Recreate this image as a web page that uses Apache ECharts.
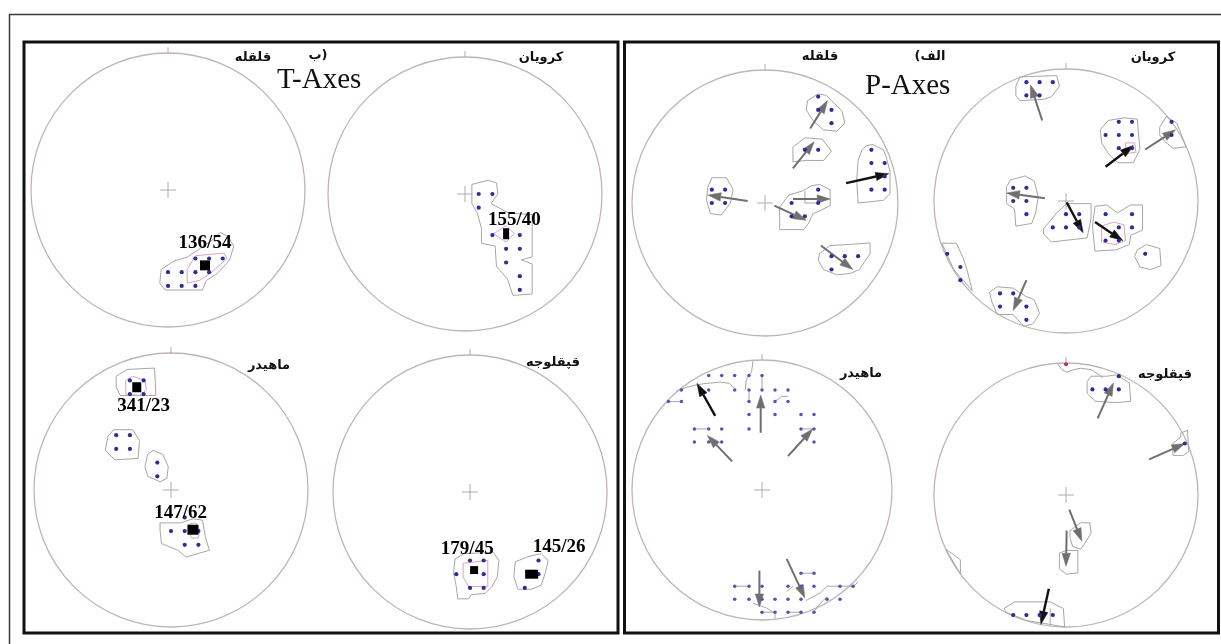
<!DOCTYPE html>
<html><head><meta charset="utf-8">
<script src="https://cdn.jsdelivr.net/npm/echarts@6/dist/echarts.min.js"></script>
<style>html,body{margin:0;padding:0;background:#fff}#c{width:1221px;height:644px}</style>
</head><body><div id="c"></div>
<script>
// ---------------- DATA (net coordinates: unit circle, x east, y north) ----------------
const siteNames = ['قلقله', 'کرویان', 'ماهیدر', 'قپقلوجه'];
const panelTitles = ['T-Axes', 'P-Axes'];
const panelLetters = ['ب)', '(الف'];

// T-Axes / قلقله
const dotsA = [[0,-0.6],[0.1,-0.6],[0.2,-0.6],[0.3,-0.6],[0.2,-0.5],[0.3,-0.5],[0.4,-0.5],[0,-0.7],[0.1,-0.7],[0.2,-0.7]];
const polysA = [[[-0.05,-0.58],[0.04,-0.52],[0.14,-0.49],[0.23,-0.43],[0.33,-0.36],[0.38,-0.31],[0.44,-0.34],[0.48,-0.41],[0.45,-0.51],[0.36,-0.61],[0.28,-0.66],[0.25,-0.73],[-0.02,-0.73],[-0.06,-0.68]]];
const innerA = [[[0.14,-0.68],[0.23,-0.66],[0.32,-0.6],[0.43,-0.5],[0.41,-0.46],[0.31,-0.47],[0.2,-0.48],[0.14,-0.58]]];
const squaresA = [[0.27,-0.55]];
const labelsA = [[0.27,-0.39,'136/54']];

// T-Axes / کرویان
const dotsB = [[0.1,0],[0.2,0],[0.1,-0.1],[0.2,-0.3],[0.4,-0.3],[0.3,-0.4],[0.4,-0.4],[0.3,-0.5],[0.4,-0.6],[0.4,-0.7]];
const polysB = [[[0.05,0.07],[0.17,0.1],[0.23,0.08],[0.24,0],[0.19,-0.07],[0.32,-0.14],[0.49,-0.15],[0.49,-0.46],[0.41,-0.48],[0.49,-0.51],[0.49,-0.73],[0.35,-0.74],[0.31,-0.62],[0.23,-0.53],[0.22,-0.38],[0.12,-0.36],[0.12,-0.25],[0.09,-0.14],[0.05,-0.07]]];
const innerB = [[[0.21,-0.29],[0.3,-0.23],[0.36,-0.29],[0.3,-0.35]]];
const squaresB = [[0.3,-0.29]];
const labelsB = [[0.36,-0.19,'155/40']];

// T-Axes / ماهیدر
const dotsC = [[-0.3,0.8],[-0.2,0.8],[-0.3,0.7],[-0.2,0.7],[-0.4,0.4],[-0.3,0.4],[-0.4,0.3],[-0.3,0.3],[-0.1,0.2],[-0.1,0.1],[0,-0.3],[0.1,-0.3],[0.1,-0.4],[0.2,-0.4],[0.1,-0.2],[0.2,-0.3]];
const polysC = [
  [[-0.4,0.83],[-0.32,0.88],[-0.12,0.89],[-0.11,0.69],[-0.37,0.69],[-0.4,0.75]],
  [[-0.46,0.39],[-0.42,0.44],[-0.28,0.44],[-0.23,0.36],[-0.24,0.23],[-0.41,0.22],[-0.48,0.29]],
  [[-0.17,0.26],[-0.13,0.29],[-0.06,0.26],[-0.02,0.17],[-0.03,0.085],[-0.08,0.06],[-0.17,0.1],[-0.19,0.17]],
  [[-0.08,-0.24],[0.07,-0.24],[0.16,-0.21],[0.23,-0.22],[0.25,-0.34],[0.28,-0.44],[0.21,-0.46],[0.11,-0.49],[0.05,-0.44],[-0.07,-0.39],[-0.08,-0.29]]
];
const innerC = [
  [[-0.33,0.8],[-0.28,0.83],[-0.19,0.8],[-0.18,0.73],[-0.23,0.69],[-0.33,0.7]],
  [[0.13,-0.25],[0.18,-0.24],[0.21,-0.29],[0.2,-0.35],[0.15,-0.35],[0.13,-0.3]]
];
const squaresC = [[-0.25,0.75],[0.16,-0.29]];
const labelsC = [[-0.2,0.61,'341/23'],[0.07,-0.165,'147/62']];

// T-Axes / قپقلوجه
const dotsD = [[0,-0.5],[0.1,-0.5],[-0.1,-0.6],[0.1,-0.6],[0,-0.7],[0.1,-0.7],[0.5,-0.5],[0.5,-0.6],[0.4,-0.7]];
const polysD = [
  [[-0.11,-0.49],[-0.04,-0.45],[0.17,-0.44],[0.21,-0.5],[0.2,-0.62],[0.16,-0.69],[0.11,-0.74],[0.01,-0.75],[-0.01,-0.78],[-0.09,-0.78],[-0.1,-0.69],[-0.12,-0.59]],
  [[0.33,-0.51],[0.43,-0.47],[0.52,-0.45],[0.57,-0.5],[0.55,-0.59],[0.52,-0.68],[0.45,-0.71],[0.35,-0.71],[0.32,-0.62]]
];
const innerD = [[[-0.05,-0.52],[0.13,-0.5],[0.13,-0.69],[-0.01,-0.69],[-0.05,-0.62]]];
const squaresD = [[0.03,-0.57],[0.45,-0.6]];
const labelsD = [[-0.02,-0.42,'179/45'],[0.65,-0.4,'145/26']];

// P-Axes / قلقله   (arrows: x1,y1 -> x2,y2, tone 0 grey / 1 black)
const dotsE = [[0.4,0.8],[0.4,0.7],[0.5,0.7],[0.5,0.6],[0.3,0.4],[0.4,0.4],[0.8,0.4],[0.8,0.3],[0.9,0.3],[0.9,0.2],[0.8,0.1],[0.9,0.1],[-0.4,0.1],[-0.3,0.1],[-0.4,0],[-0.3,0],[0.4,0.1],[0.2,0],[0.4,0],[0.2,-0.1],[0.3,-0.1],[0.5,-0.4],[0.6,-0.4],[0.7,-0.4],[0.5,-0.5]];
const polysE = [
  [[0.32,0.77],[0.4,0.82],[0.46,0.81],[0.58,0.69],[0.6,0.6],[0.54,0.54],[0.44,0.55],[0.36,0.62],[0.31,0.7]],
  [[0.21,0.42],[0.3,0.49],[0.43,0.48],[0.5,0.39],[0.44,0.32],[0.31,0.32],[0.21,0.31]],
  [[0.76,0.43],[0.81,0.44],[0.89,0.4],[0.91,0.35],[0.94,0.24],[0.94,0.07],[0.89,0.02],[0.7,0],[0.69,0.17],[0.7,0.32],[0.73,0.4]],
  [[-0.43,0.12],[-0.4,0.19],[-0.29,0.19],[-0.24,0.1],[-0.26,0],[-0.33,-0.09],[-0.41,-0.08],[-0.44,0.02]],
  [[0.11,-0.03],[0.18,0.06],[0.28,0.09],[0.35,0.13],[0.41,0.14],[0.49,0.1],[0.49,-0.02],[0.41,-0.06],[0.36,-0.08],[0.33,-0.15],[0.29,-0.2],[0.11,-0.2]],
  [[0.41,-0.38],[0.49,-0.32],[0.66,-0.31],[0.79,-0.3],[0.79,-0.38],[0.71,-0.5],[0.64,-0.53],[0.54,-0.54],[0.44,-0.5],[0.4,-0.43]]
];
const linesE = [[[0.3,0.09],[0.3,0.0],[0.41,0.0]]];
const arrowsE = [[0.34,0.56,0.47,0.77,0],[0.21,0.26,0.37,0.46,0],[0.61,0.15,0.93,0.22,1],[-0.13,0.015,-0.43,0.06,0],[0.21,0.03,0.49,0.03,0],[0.07,-0.02,0.31,-0.13,0],[0.42,-0.32,0.66,-0.5,0]];

// P-Axes / کرویان
const dotsF = [[-0.3,0.9],[-0.2,0.9],[-0.1,0.9],[-0.3,0.8],[-0.2,0.8],[0.4,0.6],[0.5,0.6],[0.3,0.5],[0.4,0.5],[0.5,0.5],[0.4,0.4],[0.5,0.4],[0.8,0.6],[0.8,0.5],[-0.4,0.1],[-0.3,0.1],[-0.4,0],[-0.3,0],[-0.3,-0.1],[0,-0.1],[0.1,-0.1],[-0.1,-0.2],[0,-0.2],[0.1,-0.2],[0.3,-0.1],[0.5,-0.1],[0.4,-0.2],[0.5,-0.2],[0.3,-0.3],[0.4,-0.3],[0.6,-0.4],[-0.9,-0.4],[-0.8,-0.5],[-0.8,-0.6],[-0.5,-0.7],[-0.4,-0.7],[-0.5,-0.8],[-0.3,-0.8],[-0.3,-0.9]];
const polysF = [
  [[-0.38,0.87],[-0.35,0.94],[-0.07,0.95],[-0.05,0.87],[-0.11,0.79],[-0.17,0.77],[-0.35,0.76],[-0.38,0.8]],
  [[0.26,0.54],[0.32,0.61],[0.44,0.63],[0.54,0.62],[0.56,0.39],[0.51,0.29],[0.39,0.29],[0.32,0.36],[0.27,0.44]],
  [[0.71,0.56],[0.76,0.64],[0.84,0.59],[0.91,0.41],[0.81,0.4],[0.75,0.45],[0.71,0.5]],
  [[-0.45,0.11],[-0.42,0.16],[-0.31,0.19],[-0.24,0.15],[-0.21,0.03],[-0.23,-0.09],[-0.26,-0.17],[-0.38,-0.19],[-0.39,-0.06],[-0.45,-0.02]],
  [[-0.17,-0.21],[-0.07,-0.09],[0.005,-0.02],[0.19,-0.02],[0.19,-0.13],[0.16,-0.28],[-0.11,-0.31],[-0.17,-0.25]],
  [[0.22,-0.04],[0.31,-0.03],[0.39,-0.09],[0.49,-0.03],[0.58,-0.03],[0.58,-0.22],[0.49,-0.26],[0.48,-0.33],[0.38,-0.37],[0.22,-0.38],[0.2,-0.19]],
  [[0.54,-0.37],[0.61,-0.33],[0.71,-0.36],[0.72,-0.49],[0.64,-0.52],[0.56,-0.5],[0.52,-0.42]],
  [[-0.94,-0.32],[-0.83,-0.32],[-0.78,-0.43],[-0.75,-0.52],[-0.71,-0.68],[-0.85,-0.52]],
  [[-0.58,-0.69],[-0.52,-0.65],[-0.4,-0.66],[-0.31,-0.72],[-0.24,-0.75],[-0.2,-0.85],[-0.25,-0.93],[-0.32,-0.95],[-0.4,-0.86],[-0.52,-0.86],[-0.56,-0.77]]
];
const innerF = [
  [[0.45,0.44],[0.52,0.44],[0.53,0.37],[0.46,0.36]],
  [[0.27,-0.19],[0.36,-0.16],[0.44,-0.18],[0.45,-0.3],[0.37,-0.33],[0.27,-0.31]]
];
const arrowsF = [[-0.18,0.61,-0.27,0.88,0],[0.3,0.26,0.51,0.42,1],[0.6,0.39,0.83,0.54,0],[-0.16,0.02,-0.45,0.06,0],[0.005,-0.01,0.13,-0.24,1],[0.22,-0.16,0.43,-0.3,1],[-0.3,-0.6,-0.4,-0.83,0]];

// P-Axes / ماهیدر
const dotsG = [[-0.41,0.88],[-0.31,0.88],[-0.21,0.88],[-0.1,0.88],[0,0.88],
  [-0.62,0.77],[-0.41,0.77],[-0.21,0.77],[-0.1,0.77],[0,0.77],[0.1,0.77],[0.2,0.77],
  [-0.72,0.68],[-0.62,0.68],[-0.1,0.68],[0.1,0.68],[0.2,0.68],
  [-0.1,0.58],[0.1,0.58],[0.3,0.58],[0.4,0.58],
  [-0.52,0.47],[-0.41,0.47],[-0.31,0.47],[-0.1,0.47],[0.3,0.47],[0.4,0.47],
  [-0.52,0.37],[-0.41,0.37],[-0.31,0.37],[0.4,0.37],
  [0.3,-0.64],[0.4,-0.64],
  [-0.21,-0.74],[-0.1,-0.74],[0,-0.74],[0.2,-0.74],[0.3,-0.74],[0.4,-0.74],[0.6,-0.74],[0.7,-0.74],
  [-0.21,-0.84],[-0.1,-0.84],[0,-0.84],[0.1,-0.84],[0.2,-0.84],[0.3,-0.84],[0.5,-0.84],[0.6,-0.84],
  [0,-0.94],[0.1,-0.94],[0.2,-0.94],[0.3,-0.94],[0.4,-0.94]];
const linesG = [
  [[-0.07,0.99],[-0.08,0.91],[-0.12,0.85],[-0.13,0.77]],
  [[-0.66,0.76],[-0.58,0.79],[-0.5,0.81],[-0.43,0.82],[-0.32,0.83],[-0.25,0.82],[-0.21,0.78]],
  [[-0.72,0.68],[-0.62,0.68]], [[0.1,0.68],[0.15,0.72],[0.2,0.72]], [[-0.1,0.77],[-0.1,0.68]],
  [[0.3,0.47],[0.4,0.47]], [[-0.52,0.47],[-0.41,0.47]], [[0,0.88],[0,0.77]],
  [[0.3,-0.64],[0.4,-0.64]], [[0.6,-0.74],[0.7,-0.74],[0.74,-0.71]],
  [[-0.07,-0.87],[0.04,-0.91],[0.1,-0.95],[0.1,-0.99]],
  [[0.34,-0.85],[0.45,-0.79],[0.5,-0.74],[0.6,-0.74]], [[0.19,-0.78],[0.24,-0.74]],
  [[0.39,-0.95],[0.45,-0.87],[0.5,-0.82]], [[0,-0.94],[0.1,-0.94]], [[0.2,-0.94],[0.3,-0.94]],
  [[-0.21,-0.74],[-0.1,-0.74]]
];
const arrowsG = [[-0.36,0.57,-0.5,0.82,1],[-0.01,0.44,-0.01,0.73,0],[-0.23,0.22,-0.42,0.42,0],[0.2,0.26,0.39,0.47,0],[-0.02,-0.62,-0.02,-0.9,0],[0.19,-0.53,0.33,-0.83,0]];

// P-Axes / قپقلوجه
const dotsH = [[0.2,0.8],[0.3,0.8],[0.4,0.8],[0.4,0.9],[0.9,0.39],[-0.4,-0.91],[-0.3,-0.91],[-0.2,-0.91],[-0.1,-0.91]];
const polysH = [
  [[0.16,0.86],[0.19,0.9],[0.31,0.9],[0.38,0.91],[0.48,0.85],[0.49,0.71],[0.39,0.7],[0.22,0.71],[0.16,0.77]],
  [[0.87,0.47],[0.92,0.49],[0.93,0.33],[0.89,0.3],[0.81,0.3],[0.81,0.39],[0.87,0.44]],
  [[0.03,-0.27],[0.11,-0.21],[0.18,-0.21],[0.19,-0.29],[0.14,-0.37],[0.11,-0.41],[0.05,-0.39],[0.03,-0.32]],
  [[-0.05,-0.44],[0,-0.42],[0.09,-0.42],[0.09,-0.59],[0.005,-0.6],[-0.05,-0.56]],
  [[-0.47,-0.86],[-0.39,-0.81],[-0.12,-0.81],[-0.02,-0.86],[-0.01,-1.0],[-0.3,-0.95],[-0.45,-0.89]],
  [[-0.91,-0.41],[-0.8,-0.49],[-0.8,-0.6]]
];
const linesH = [[[-0.07,1.0],[-0.03,0.95],[0.005,0.93],[0.06,0.95],[0.11,0.96],[0.19,0.95],[0.28,0.89]],[[-0.12,-0.86],[-0.12,-0.99]]];
const arrowsH = [[0.24,0.58,0.36,0.85,0],[0.63,0.27,0.9,0.39,0],[0.025,-0.11,0.12,-0.35,0],[0.005,-0.27,0,-0.54,0],[-0.13,-0.71,-0.19,-0.98,1]];
const redH = [[0,0.99]];

// ---------------- LAYOUT / STYLE ----------------
const layout = [
  {cx:168,cy:190,r:137},{cx:465,cy:194,r:137},{cx:171,cy:490,r:137},{cx:470,cy:492,r:137},
  {cx:765,cy:203,r:133},{cx:1066,cy:201,r:132},{cx:762,cy:490,r:130},{cx:1066,cy:495,r:132}
];
const squareSizes = [[[10,10]],[[6,11]],[[9,10],[11,10]],[[8,8],[13,9]],[],[],[],[]];
const nets = [
  {dots:dotsA,polys:polysA,inner:innerA,lines:[],arrows:[],squares:squaresA,labels:labelsA},
  {dots:dotsB,polys:polysB,inner:innerB,lines:[],arrows:[],squares:squaresB,labels:labelsB},
  {dots:dotsC,polys:polysC,inner:innerC,lines:[],arrows:[],squares:squaresC,labels:labelsC},
  {dots:dotsD,polys:polysD,inner:innerD,lines:[],arrows:[],squares:squaresD,labels:labelsD},
  {dots:dotsE,polys:polysE,inner:[],lines:linesE,arrows:arrowsE,squares:[],labels:[]},
  {dots:dotsF,polys:polysF,inner:innerF,lines:[],arrows:arrowsF,squares:[],labels:[]},
  {dots:dotsG,polys:[],inner:[],lines:linesG,arrows:arrowsG,squares:[],labels:[],small:true},
  {dots:dotsH,polys:polysH,inner:[],lines:linesH,arrows:arrowsH,squares:[],labels:[],red:redH}
];
const CIRCLE = '#c2b4b2', POLY = '#a8a6a8', INNER = '#d9a3c4', DOT = '#2f2d95';
const ARROW = ['#6f6f6f', '#111111'];

const grids = [], xAxes = [], yAxes = [], series = [];
nets.forEach((n, i) => {
  const L = layout[i];
  grids.push({left: L.cx - L.r, top: L.cy - L.r, width: 2 * L.r, height: 2 * L.r});
  xAxes.push({type:'value', gridIndex:i, min:-1, max:1, show:false});
  yAxes.push({type:'value', gridIndex:i, min:-1, max:1, show:false});
  series.push({
    type:'custom', xAxisIndex:i, yAxisIndex:i, data:[[0,0]], clip:false, silent:true, z:1,
    encode:{x:0, y:1},
    renderItem: (params, api) => {
      const c = api.coord([0,0]);
      const R = api.coord([1,0])[0] - c[0];
      const ch = [];
      const P = pt => api.coord(pt);
      ch.push({type:'circle', shape:{cx:c[0], cy:c[1], r:R}, style:{fill:'none', stroke:CIRCLE, lineWidth:1.3}});
      ch.push({type:'line', shape:{x1:c[0]-8, y1:c[1], x2:c[0]+8, y2:c[1]}, style:{stroke:'#b4a9a9', lineWidth:1}});
      ch.push({type:'line', shape:{x1:c[0], y1:c[1]-8, x2:c[0], y2:c[1]+8}, style:{stroke:'#b4a9a9', lineWidth:1}});
      ch.push({type:'line', shape:{x1:c[0], y1:c[1]-R, x2:c[0], y2:c[1]-R-6}, style:{stroke:'#b4a9a9', lineWidth:1}});
      n.polys.forEach(poly => ch.push({type:'polygon', shape:{points:poly.map(P)}, style:{fill:'none', stroke:POLY, lineWidth:1}}));
      n.inner.forEach(poly => ch.push({type:'polygon', shape:{points:poly.map(P)}, style:{fill:'none', stroke:INNER, lineWidth:1}}));
      n.lines.forEach(l => ch.push({type:'polyline', shape:{points:l.map(P)}, style:{fill:'none', stroke:POLY, lineWidth:1}}));
      n.arrows.forEach(a => {
        const p1 = api.coord([a[0], a[1]]), p2 = api.coord([a[2], a[3]]);
        const dx = p2[0]-p1[0], dy = p2[1]-p1[1], len = Math.hypot(dx, dy);
        const ux = dx/len, uy = dy/len, HL = 13, HW = 4.2;
        const bx = p2[0]-ux*HL, by = p2[1]-uy*HL;
        const col = ARROW[a[4]];
        ch.push({type:'line', shape:{x1:p1[0], y1:p1[1], x2:bx, y2:by}, style:{stroke:col, lineWidth:a[4] ? 2.4 : 2}});
        ch.push({type:'polygon', shape:{points:[[p2[0],p2[1]],[bx-uy*HW, by+ux*HW],[bx+uy*HW, by-ux*HW]]}, style:{fill:col, stroke:col, lineWidth:0.5}});
      });
      return {type:'group', children:ch};
    }
  });
  series.push({type:'scatter', xAxisIndex:i, yAxisIndex:i, data:n.dots, symbolSize:n.small ? 3.5 : 4.2,
    itemStyle:{color: n.small ? '#5a50b8' : DOT, opacity:1}, z:3, silent:true});
  if (n.red) series.push({type:'scatter', xAxisIndex:i, yAxisIndex:i, data:n.red, symbolSize:4, itemStyle:{color:'#b0306a', opacity:1}, z:3, silent:true});
  if (n.squares.length) series.push({type:'scatter', xAxisIndex:i, yAxisIndex:i, symbol:'rect',
    data:n.squares.map((s, k) => ({value:s, symbolSize:squareSizes[i][k]})), itemStyle:{color:'#000', opacity:1}, z:4, silent:true});
  if (n.labels.length) series.push({type:'scatter', xAxisIndex:i, yAxisIndex:i, symbolSize:1,
    data:n.labels.map(l => ({value:[l[0], l[1]], name:l[2]})), itemStyle:{color:'rgba(0,0,0,0)', opacity:1}, z:5, silent:true,
    label:{show:true, position:'inside', formatter:'{b}', fontFamily:'Liberation Serif', fontWeight:'bold', fontSize:19, color:'#000', opacity:1}});
});

function txt(x, y, s, font, align) {
  return {type:'text', x:x, y:y, z:100, style:{text:s, font:font, fill:'#111', align:align || 'center', verticalAlign:'middle'}};
}
const FA = 'bold 13px "DejaVu Sans"';
const TT = '29px "Liberation Serif"';
const graphic = [
  {type:'rect', z:0, shape:{x:9.5, y:14.5, width:1230, height:640}, style:{fill:'none', stroke:'#3a3a3a', lineWidth:1.5}},
  {type:'rect', z:0, shape:{x:24, y:42, width:594, height:591}, style:{fill:'none', stroke:'#111', lineWidth:3}},
  {type:'rect', z:0, shape:{x:624.5, y:42, width:594, height:591}, style:{fill:'none', stroke:'#111', lineWidth:3}},
  txt(277, 80, panelTitles[0], TT, 'left'),
  txt(865, 86, panelTitles[1], TT, 'left'),
  txt(318, 56, panelLetters[0], FA),
  txt(930, 57, panelLetters[1], FA),
  txt(253, 58, siteNames[0], FA), txt(541, 58, siteNames[1], FA),
  txt(269, 366, siteNames[2], FA), txt(553, 363, siteNames[3], FA),
  txt(820, 57, siteNames[0], FA), txt(1153, 58, siteNames[1], FA),
  txt(861, 374, siteNames[2], FA), txt(1165, 375, siteNames[3], FA)
];

const chart = echarts.init(document.getElementById('c'), null, {renderer:'canvas'});
chart.setOption({
  backgroundColor:'#fff', animation:false,
  grid:grids, xAxis:xAxes, yAxis:yAxes, series:series, graphic:graphic
});
</script></body></html>
